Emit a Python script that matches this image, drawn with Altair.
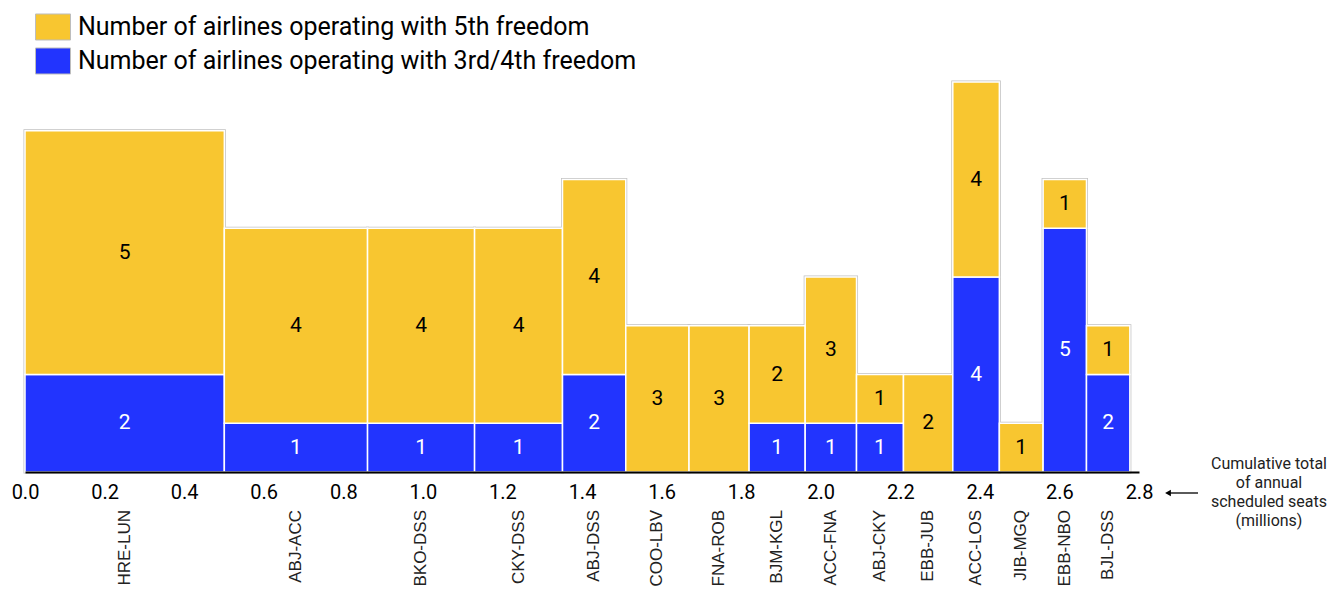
import altair as alt
import pandas as pd

# Routes ordered by annual scheduled seats (millions)
routes = ["HRE-LUN", "ABJ-ACC", "BKO-DSS", "CKY-DSS", "ABJ-DSS", "COO-LBV", "FNA-ROB",
          "BJM-KGL", "ACC-FNA", "ABJ-CKY", "EBB-JUB", "ACC-LOS", "JIB-MGQ", "EBB-NBO", "BJL-DSS"]
seats_millions = [0.501, 0.360, 0.269, 0.221, 0.159, 0.159, 0.151,
                  0.141, 0.129, 0.118, 0.124, 0.117, 0.110, 0.109, 0.109]
airlines_3rd_4th = [2, 1, 1, 1, 2, 0, 0, 1, 1, 1, 0, 4, 0, 5, 2]
airlines_5th = [5, 4, 4, 4, 4, 3, 3, 2, 3, 1, 2, 4, 1, 1, 1]

axis_ticks = [0.0, 0.2, 0.4, 0.6, 0.8, 1.0, 1.2, 1.4, 1.6, 1.8, 2.0, 2.2, 2.4, 2.6, 2.8]

S5 = "Number of airlines operating with 5th freedom"
S34 = "Number of airlines operating with 3rd/4th freedom"
YELLOW = "#F8C630"
BLUE = "#2234FE"
FONT = "Roboto"

# Marimekko geometry: column widths are seats, heights are airline counts
routes_df = pd.DataFrame({"route": routes, "seats": seats_millions,
                          "n34": airlines_3rd_4th, "n5": airlines_5th})
routes_df["x_end"] = routes_df["seats"].cumsum()
routes_df["x_start"] = routes_df["x_end"] - routes_df["seats"]
routes_df["x_mid"] = (routes_df["x_start"] + routes_df["x_end"]) / 2
routes_df["total"] = routes_df["n34"] + routes_df["n5"]

seg_rows = []
for r in routes_df.itertuples():
    seg_rows.append({"route": r.route, "series": S34, "count": r.n34,
                     "x0": r.x_start, "x1": r.x_end, "x_mid": r.x_mid,
                     "y0": 0, "y1": r.n34})
    seg_rows.append({"route": r.route, "series": S5, "count": r.n5,
                     "x0": r.x_start, "x1": r.x_end, "x_mid": r.x_mid,
                     "y0": r.n34, "y1": r.total})
segments = pd.DataFrame(seg_rows)
segments["y_mid"] = (segments["y0"] + segments["y1"]) / 2

W, H = 1114, 390
x_scale = alt.Scale(domain=[0, 2.8], nice=False, zero=False)
y_scale = alt.Scale(domain=[0, 8], nice=False)

# One shared x axis for every layer, drawn above the columns
x_axis = alt.Axis(values=axis_ticks, format=".1f", title=None, grid=False,
                  ticks=False, tickSize=0, labelPadding=10, labelFontSize=20,
                  labelFont=FONT, labelColor="black", labelFlush=False,
                  labelOverlap=False, domainColor="black", domainWidth=2, zindex=1)

outline = alt.Chart(routes_df).mark_rect(
    fill=None, stroke="#c2c2c2", strokeWidth=3
).encode(
    x=alt.X("x_start:Q", scale=x_scale, axis=x_axis),
    x2="x_end:Q",
    y=alt.Y("total:Q", scale=y_scale, axis=None),
    y2=alt.datum(0),
)

legend_shape = "M-1,-0.743H1V0.743H-1Z"
bars = alt.Chart(segments).transform_filter("datum.count > 0").mark_rect(
    stroke="white", strokeWidth=1.5
).encode(
    x=alt.X("x0:Q", scale=x_scale, axis=x_axis),
    x2="x1:Q",
    y=alt.Y("y1:Q", scale=y_scale, axis=None),
    y2="y0:Q",
    color=alt.Color("series:N",
                    scale=alt.Scale(domain=[S5, S34], range=[YELLOW, BLUE]),
                    legend=alt.Legend(title=None, orient="none", legendX=10, legendY=-73,
                                      symbolType=legend_shape, symbolSize=1225,
                                      symbolStrokeColor="#bdbdbd", symbolStrokeWidth=1,
                                      symbolOpacity=1, labelFontSize=25, labelFont=FONT,
                                      labelColor="black", labelOffset=7, labelLimit=800,
                                      rowPadding=-1, padding=0)),
)

count_yellow = alt.Chart(segments).transform_filter(
    f"datum.count > 0 && datum.series == '{S5}'"
).mark_text(font=FONT, fontSize=21, color="black").encode(
    x=alt.X("x_mid:Q", scale=x_scale, axis=x_axis),
    y=alt.Y("y_mid:Q", scale=y_scale, axis=None),
    text="count:Q",
)

count_blue = alt.Chart(segments).transform_filter(
    f"datum.count > 0 && datum.series == '{S34}'"
).mark_text(font=FONT, fontSize=21, color="white").encode(
    x=alt.X("x_mid:Q", scale=x_scale, axis=x_axis),
    y=alt.Y("y_mid:Q", scale=y_scale, axis=None),
    text="count:Q",
)

route_labels = alt.Chart(routes_df).mark_text(
    angle=270, align="right", baseline="middle", font="Liberation Sans",
    fontSize=17, color="#222222"
).encode(
    x=alt.X("x_mid:Q", scale=x_scale, axis=x_axis),
    y=alt.value(H + 38),
    text="route:N",
)

# Axis note at the right end of the x axis
note = alt.Chart(pd.DataFrame({"k": [0]})).mark_text(
    text=["Cumulative total", "of annual", "scheduled seats", "(millions)"],
    align="center", baseline="top", font=FONT, fontSize=16, lineHeight=19,
    color="#222222"
).encode(x=alt.value(1244), y=alt.value(H - 16))

arrow_line = alt.Chart(pd.DataFrame({"k": [0]})).mark_rule(
    color="black", strokeWidth=1.3
).encode(x=alt.value(1144), x2=alt.value(1173), y=alt.value(H + 21))

arrow_head = alt.Chart(pd.DataFrame({"k": [0]})).mark_point(
    shape="triangle-left", filled=True, color="black", size=45, opacity=1
).encode(x=alt.value(1143), y=alt.value(H + 21))

chart = alt.layer(
    outline, bars, count_yellow, count_blue, route_labels, note, arrow_line, arrow_head
).properties(
    width=W, height=H,
    background="white",
    autosize=alt.AutoSizeParams(type="none"),
    padding={"left": 25, "top": 82, "right": 204, "bottom": 120},
).configure_view(stroke=None)

chart.save("out.html", embed_options={"renderer": "svg", "actions": False})
